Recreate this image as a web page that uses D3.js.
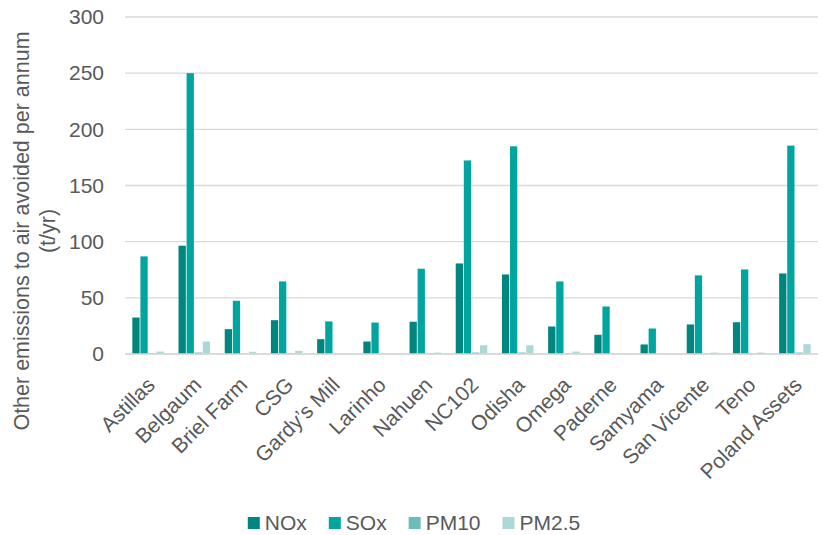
<!DOCTYPE html>
<html>
<head>
<meta charset="utf-8">
<script src="https://cdn.jsdelivr.net/npm/d3@7"></script>
<style>
    body { margin: 0; background: #fff; }
    svg { font-family: 'Liberation Sans', Arial, sans-serif; }
</style>
</head>
<body>
<svg width="823" height="535"></svg>
<script>
let sites = ['Astillas', 'Belgaum', 'Briel Farm', 'CSG', 'Gardy\u2019s Mill', 'Larinho', 'Nahuen', 'NC102',
    'Odisha', 'Omega', 'Paderne', 'Samyama', 'San Vicente', 'Teno', 'Poland Assets'];
let seriesNames = ['NOx', 'SOx', 'PM10', 'PM2.5'];
let nox = [32.5, 96.4, 22.1, 30.1, 13.2, 11.1, 28.7, 80.6, 70.8, 24.5, 17.1, 8.5, 26.3, 28.3, 71.7];
let sox = [86.9, 250, 47.4, 64.6, 29.0, 28.0, 75.9, 172.3, 184.9, 64.6, 42.3, 22.7, 70.0, 75.3, 185.5];
let pm10 = [0.7, 1.3, 0.3, 0.5, 0.2, 0.1, 0.3, 1.3, 1.3, 0.2, 0.1, 0.1, 0.2, 0.3, 1.3];
let pm25 = [2.2, 11.1, 2.0, 2.8, 0.8, 0.5, 1.3, 7.8, 7.8, 2.2, 0.6, 0.4, 1.3, 1.3, 8.7];
let yTicks = [0, 50, 100, 150, 200, 250, 300];

document.addEventListener('DOMContentLoaded', function() {
    let svg = d3.select('svg');
    let width = +svg.attr('width');
    let height = +svg.attr('height');
    let margin = {top: 17, right: 5, bottom: 181, left: 125};
    let colors = ['#00857f', '#00a5a0', '#6cbdba', '#acd8d7'];
    let values = [nox, sox, pm10, pm25];

    let x0 = d3.scaleBand()
        .domain(sites)
        .range([margin.left, width - margin.right])
        .paddingInner(0.3)
        .paddingOuter(0.15);
    let x1 = d3.scaleBand()
        .domain(seriesNames)
        .range([0, x0.bandwidth()])
        .padding(0);
    let y = d3.scaleLinear()
        .domain([0, 300])
        .range([height - margin.bottom, margin.top]);

    // gridlines
    svg.append('g').attr('class', 'grid')
        .selectAll('line')
        .data(yTicks)
        .join('line')
        .attr('x1', margin.left)
        .attr('x2', width - margin.right)
        .attr('y1', d => y(d))
        .attr('y2', d => y(d))
        .attr('stroke', '#d9d9d9')
        .attr('stroke-width', 1.3);

    // y axis labels
    let yAxis = svg.append('g')
        .attr('transform', 'translate(' + (margin.left - 21) + ',0)')
        .call(d3.axisLeft(y).tickValues(yTicks).tickSize(0).tickPadding(0));
    yAxis.select('.domain').remove();
    yAxis.selectAll('text')
        .attr('font-size', 21)
        .attr('font-family', 'Liberation Sans, Arial, sans-serif')
        .attr('fill', '#595959');

    // bars
    let rows = sites.map((s, i) => ({site: s, vals: seriesNames.map((k, j) => ({key: k, value: values[j][i], color: colors[j]}))}));
    svg.append('g').attr('class', 'bars')
        .selectAll('g')
        .data(rows)
        .join('g')
        .attr('transform', d => 'translate(' + x0(d.site) + ',0)')
        .selectAll('rect')
        .data(d => d.vals)
        .join('rect')
        .attr('x', d => x1(d.key) + 0.4)
        .attr('width', x1.bandwidth() - 0.8)
        .attr('y', d => y(d.value))
        .attr('height', d => y(0) - y(d.value))
        .attr('fill', d => d.color);

    // x axis baseline
    svg.append('line')
        .attr('x1', margin.left)
        .attr('x2', width - margin.right)
        .attr('y1', y(0))
        .attr('y2', y(0))
        .attr('stroke', '#d9d9d9')
        .attr('stroke-width', 1.3);

    // category labels
    svg.append('g').attr('class', 'xlabels')
        .selectAll('text')
        .data(sites)
        .join('text')
        .attr('transform', d => 'translate(' + (x0(d) + x0.bandwidth() / 2 + 3) + ',' + (y(0) + 27) + ') rotate(-45)')
        .attr('text-anchor', 'end')
        .attr('dy', '0.35em')
        .attr('font-size', 21)
        .attr('fill', '#595959')
        .text(d => d);

    // y axis title
    let title = svg.append('text')
        .attr('transform', 'translate(29,231) rotate(-90)')
        .attr('text-anchor', 'middle')
        .attr('font-size', 21.5)
        .attr('fill', '#595959');
    title.append('tspan').attr('x', 0).attr('dy', 0).text('Other emissions to air avoided per annum');
    title.append('tspan').attr('x', 0).attr('dy', '1.2em').text('(t/yr)');

    // legend
    let legend = svg.append('g').attr('class', 'legend');
    let items = legend.selectAll('g')
        .data(seriesNames)
        .join('g');
    items.append('rect')
        .attr('width', 12)
        .attr('height', 12)
        .attr('y', -6)
        .attr('fill', (d, i) => colors[i]);
    items.append('text')
        .attr('x', 17)
        .attr('dy', '0.35em')
        .attr('font-size', 21)
        .attr('fill', '#595959')
        .text(d => d);
    let offset = 0;
    let widths = [];
    items.each(function() {
        let w = 17 + this.querySelector('text').getComputedTextLength();
        widths.push(w);
    });
    let gap = 22;
    let total = d3.sum(widths) + gap * (widths.length - 1);
    let start = 414 - total / 2;
    items.attr('transform', function(d, i) {
        let t = 'translate(' + (start + offset) + ',523)';
        offset += widths[i] + gap;
        return t;
    });
});
</script>
</body>
</html>
